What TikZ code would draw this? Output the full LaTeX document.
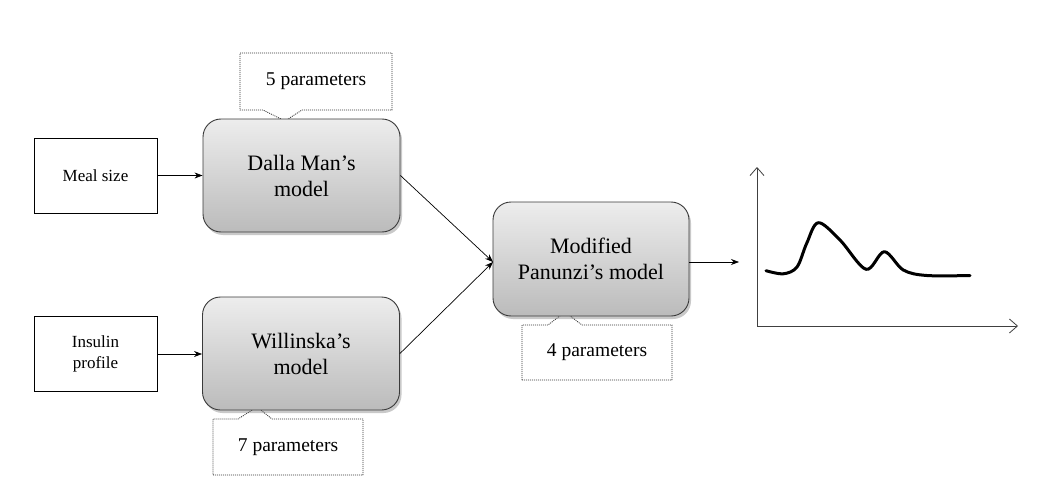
\documentclass[tikz,border=0pt]{standalone}
\usepackage{fontspec}
\setmainfont{Liberation Serif}
\newfontfamily\tnr{Liberation Serif}
\usetikzlibrary{arrows.meta,shadows,calc}
\definecolor{boxedge}{HTML}{3A3A3A}
\definecolor{shadetop}{HTML}{EDEDED}
\definecolor{shadebot}{HTML}{BBBBBB}
\tikzset{
  model/.style={draw=boxedge, line width=0.9pt, rounded corners=18pt,
    top color=shadetop, bottom color=shadebot,
    drop shadow={shadow xshift=2pt, shadow yshift=-3pt, opacity=0.35, fill=black!60},
    minimum width=197pt, minimum height=113pt, align=center,
    font=\tnr\fontsize{22}{26}\selectfont, inner sep=0pt},
  inbox/.style={draw=black, line width=0.8pt, fill=white, minimum width=123pt,
    minimum height=75pt, align=center, font=\tnr\fontsize{17}{21.5}\selectfont, inner sep=0pt},
  callout/.style={minimum width=150pt, minimum height=56pt, inner sep=0pt,
    font=\tnr\fontsize{19.5}{23}\selectfont},
  calloutline/.style={draw=black!80, line width=0.8pt, dash pattern=on 1pt off 1pt, fill=white},
  conn/.style={line width=0.7pt, -{Stealth[length=8pt,width=6pt]}},
  axis/.style={draw=black!75, line width=0.8pt, -{Straight Barb[length=8pt,width=14pt,line width=0.8pt]}},
  curve/.style={line width=3pt, line cap=round, line join=round}
}
\begin{document}
\begin{tikzpicture}[x=1pt,y=-1pt]
\useasboundingbox[fill=white] (0,0) rectangle (1039,503);
% callouts (drawn first, boxes cover the pointer tips)
\coordinate (p5c) at (316,81.5);
\coordinate (p7c) at (288,447);
\coordinate (p4c) at (597,352.5);
\path[calloutline] ($(p5c)+(-76,-28.5)$) -- ++(152,0) -- ++(0,57)
  -- ++(-90,0) -- ++(-17,11) -- ++(-22,-11) -- ++(-23,0) -- cycle;
\path[calloutline] ($(p7c)+(-75,28)$) -- ++(150,0) -- ++(0,-56)
  -- ++(-91,0) -- ++(-15,-12) -- ++(-19,12) -- ++(-25,0) -- cycle;
\path[calloutline] ($(p4c)+(-75,27.5)$) -- ++(150,0) -- ++(0,-55)
  -- ++(-90,0) -- ++(-17,-13) -- ++(-17,13) -- ++(-26,0) -- cycle;
\node[callout] (p5) at (p5c) {5 parameters};
\node[callout] (p7) at (p7c) {7 parameters};
\node[callout] (p4) at (p4c) {4 parameters};
% model boxes
\node[model] (dalla) at (301.5,175.5) {Dalla Man’s\\model};
\node[model] (will) at (301,353.5) {Willinska’s\\model};
\node[model, minimum width=196pt, minimum height=114pt] (pan) at (591,259) {Modified\\Panunzi’s model};
% inputs
\node[inbox] (meal) at (95.5,175.5) {Meal size};
\node[inbox] (ins) at (95.5,354) {Insulin\\profile};
% connectors
\draw[conn] (meal.east) -- (meal.east -| dalla.west);
\draw[conn] (ins.east) -- (ins.east -| will.west);
\coordinate (join) at (493,262);
\draw[conn] (dalla.east) -- (join);
\draw[conn] (will.east) -- (join);
\coordinate (out) at (739,262);
\draw[conn] (pan.east |- out) -- (out);
% graph
\coordinate (origin) at (757,326);
\coordinate (ytop) at (757,167);
\coordinate (xend) at (1018,326);
\draw[axis] (origin) -- (ytop);
\draw[axis] (origin) -- (xend);
\draw[curve] plot[smooth, tension=0.55] coordinates {
  (766,270.7) (783.3,273.8) (797,267) (806.7,243.3) (818.3,222.7) (840,240)
  (866,269.3) (884.3,251.7) (903.3,270) (926.7,275.5) (970,275.5)};
\end{tikzpicture}
\end{document}
